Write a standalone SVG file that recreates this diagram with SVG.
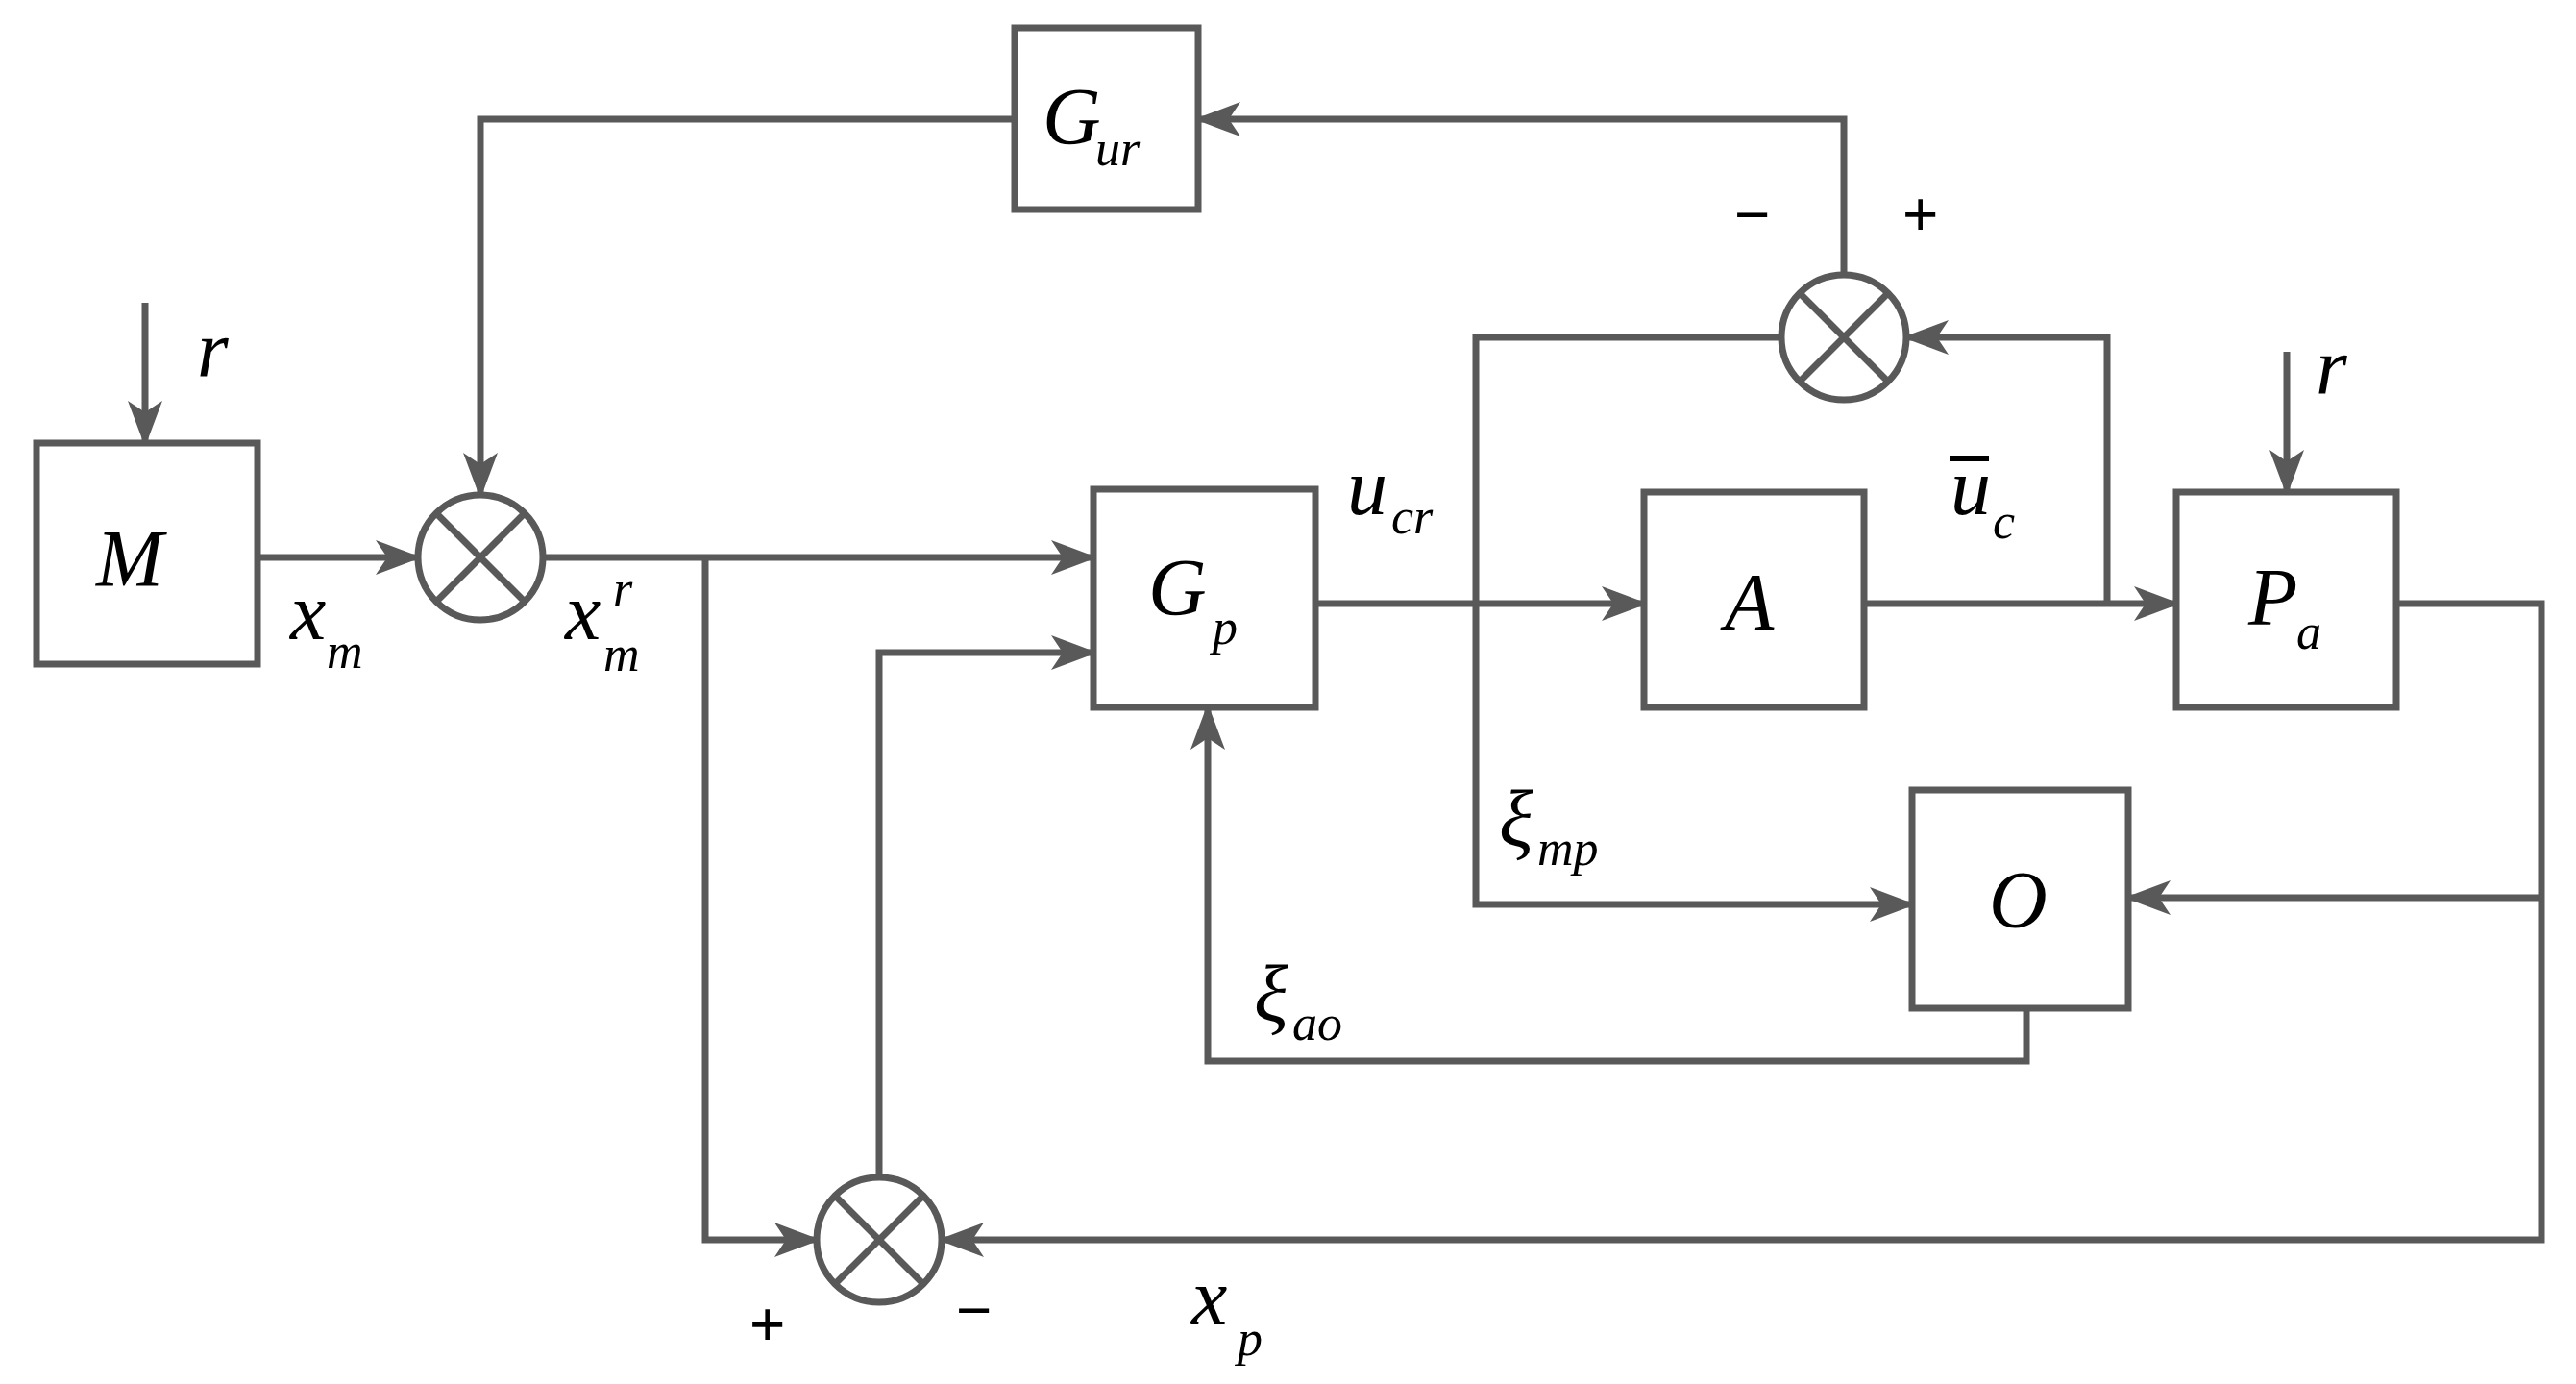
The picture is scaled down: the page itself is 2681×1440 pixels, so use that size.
<svg xmlns="http://www.w3.org/2000/svg" width="2681" height="1440" viewBox="0 0 2681 1440">
<style>
.b{fill:#fff;stroke:#595959;stroke-width:7}
.l{fill:none;stroke:#595959;stroke-width:7}
.a{fill:none;stroke:#595959;stroke-width:7;marker-end:url(#ar)}
text{font-family:"Liberation Serif",serif;font-style:italic;fill:#000}
.t{font-size:84px}
.s{font-size:52px}
.p{font-family:"Liberation Sans",sans-serif;font-style:normal;font-size:64px}
</style>
<defs>
<marker id="ar" markerUnits="userSpaceOnUse" markerWidth="48" markerHeight="36" refX="44" refY="18" orient="auto">
<path d="M0,0 L48,18 L0,36 L12,18 Z" fill="#595959"/>
</marker>
</defs>
<rect width="2681" height="1440" fill="#fff"/>
<g id="connectors">
<line class="a" x1="151" y1="315" x2="151" y2="461"/>
<line class="a" x1="268" y1="580" x2="435" y2="580"/>
<polyline class="a" points="1056,124 500,124 500,515"/>
<polyline class="a" points="1919,286 1919,124 1247,124"/>
<line class="a" x1="565" y1="580" x2="1138" y2="580"/>
<polyline class="a" points="734,580 734,1290 850,1290"/>
<polyline class="a" points="915,1225 915,679 1138,679"/>
<line class="a" x1="1369" y1="628" x2="1711" y2="628"/>
<polyline class="a" points="1854,351 1536,351 1536,941 1990,941"/>
<line class="a" x1="1940" y1="628" x2="2265" y2="628"/>
<polyline class="a" points="2193,628 2193,351 1984,351"/>
<line class="a" x1="2380" y1="366" x2="2380" y2="512"/>
<polyline class="a" points="2494,628 2645,628 2645,1290 980,1290"/>
<line class="a" x1="2645" y1="934" x2="2215" y2="934"/>
<polyline class="a" points="2109,1049 2109,1104 1257,1104 1257,736"/>
</g>
<g id="M"><rect class="b" x="38" y="461" width="230" height="230"/><text class="t" x="100" y="610">M</text></g>
<g id="Gur"><rect class="b" x="1056" y="29" width="191" height="189"/><text class="t" x="1085" y="150">G</text><text class="s" x="1140" y="172">ur</text></g>
<g id="Gp"><rect class="b" x="1138" y="509" width="231" height="227"/><text class="t" x="1195" y="640">G</text><text class="s" x="1262" y="670">p</text></g>
<g id="A"><rect class="b" x="1711" y="512" width="229" height="224"/><text class="t" x="1795" y="655">A</text></g>
<g id="Pa"><rect class="b" x="2265" y="512" width="229" height="224"/><text class="t" x="2340" y="650">P</text><text class="s" x="2390" y="675">a</text></g>
<g id="O"><rect class="b" x="1990" y="822" width="225" height="227"/><text class="t" x="2070" y="965">O</text></g>
<g id="sum1"><circle class="b" cx="500" cy="580" r="65"/><path class="l" d="M454,534 L546,626 M546,534 L454,626"/></g>
<g id="sum2"><circle class="b" cx="1919" cy="351" r="65"/><path class="l" d="M1873,305 L1965,397 M1965,305 L1873,397"/></g>
<g id="sum3"><circle class="b" cx="915" cy="1290" r="65"/><path class="l" d="M869,1244 L961,1336 M961,1244 L869,1336"/></g>
<g id="labels">
<text class="t" x="205" y="392">r</text>
<text class="t" x="2410" y="410">r</text>
<text class="t" x="302" y="665">x</text><text class="s" x="340" y="695">m</text>
<text class="t" x="588" y="665">x</text><text class="s" x="628" y="698">m</text><text class="s" x="638" y="630">r</text>
<text class="t" x="1402" y="535">u</text><text class="s" x="1448" y="555">cr</text>
<text class="t" x="2030" y="535">u</text><rect x="2030" y="474" width="40" height="6" fill="#000"/><text class="s" x="2074" y="560">c</text>
<text class="t" x="1560" y="880">ξ</text><text class="s" x="1600" y="900">mp</text>
<text class="t" x="1305" y="1062">ξ</text><text class="s" x="1345" y="1082">ao</text>
<text class="t" x="1240" y="1378">x</text><text class="s" x="1288" y="1410">p</text>
<text class="p" x="1805" y="245">−</text>
<text class="p" x="1980" y="245">+</text>
<text class="p" x="780" y="1400">+</text>
<text class="p" x="995" y="1385">−</text>
</g>
</svg>
